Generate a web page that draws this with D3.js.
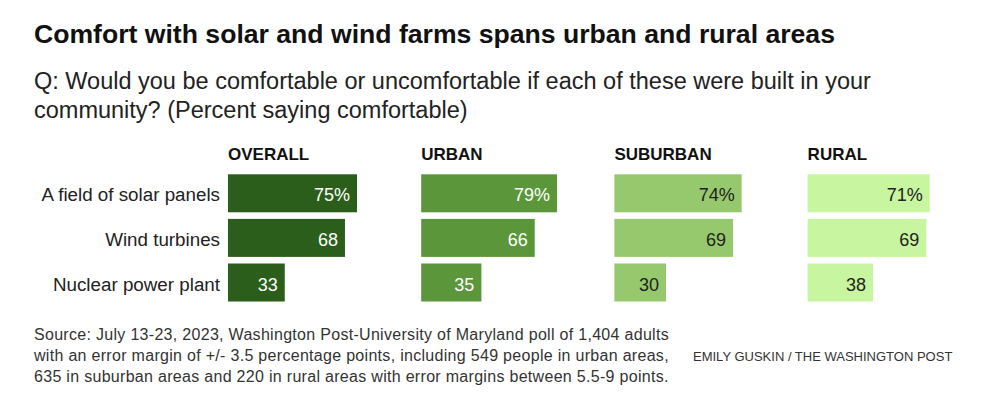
<!DOCTYPE html>
<html>
<head>
<meta charset="utf-8">
<script src="https://cdn.jsdelivr.net/npm/d3@7"></script>
<style>
  html,body{margin:0;padding:0;background:#fff}
  svg{display:block}
  text{font-family:"Liberation Sans",Arial,sans-serif}
</style>
</head>
<body>
<div id="chart"></div>
<script>
/* data */
const categories = ['A field of solar panels', 'Wind turbines', 'Nuclear power plant'];
const groups     = ['OVERALL', 'URBAN', 'SUBURBAN', 'RURAL'];
const overall    = [75, 68, 33];
const urban      = [79, 66, 35];
const suburban   = [74, 69, 30];
const rural      = [71, 69, 38];
const series     = [overall, urban, suburban, rural];

const FILL = ['#2b5e1b', '#5b963a', '#96c86d', '#c8f5a0'];
const INK  = ['#ffffff', '#ffffff', '#222222', '#222222'];

const W = 1000, H = 406;
const svg = d3.select('#chart').append('svg').attr('width', W).attr('height', H);

// title + question
svg.append('text').attr('x', 34).attr('y', 43)
  .attr('fill', '#111').attr('font-size', '26.6px').attr('font-weight', '700')
  .text('Comfort with solar and wind farms spans urban and rural areas');

const sub = svg.append('text').attr('x', 34).attr('y', 89)
  .attr('fill', '#222').attr('font-size', '23.5px');
sub.append('tspan').attr('x', 34).text('Q: Would you be comfortable or uncomfortable if each of these were built in your');
sub.append('tspan').attr('x', 34).attr('dy', 29).text('community? (Percent saying comfortable)');

// scales
const col = d3.scaleBand().domain(groups).range([228, 228 + 4 * 193.2]);
const y   = d3.scaleBand().domain(categories).range([174.3, 301.5]).paddingInner(0.148);
const x   = d3.scaleLinear().domain([0, 100]).range([0, 172]);

// row labels
svg.append('g').selectAll('text').data(categories).join('text')
  .attr('x', 220).attr('y', d => y(d) + y.bandwidth() / 2 + 8)
  .attr('text-anchor', 'end').attr('fill', '#222').attr('font-size', '18.8px')
  .text(d => d);

// panels
groups.forEach((g, gi) => {
  const x0 = col(g);
  const panel = svg.append('g').attr('transform', `translate(${x0},0)`);

  panel.append('text').attr('x', 0).attr('y', 160)
    .attr('fill', '#111').attr('font-size', '17px').attr('font-weight', '700')
    .text(g);

  const rows = categories.map((c, i) => ({c, v: series[gi][i], i}));

  panel.selectAll('rect').data(rows).join('rect')
    .attr('x', 0).attr('y', d => y(d.c))
    .attr('width', d => x(d.v)).attr('height', y.bandwidth())
    .attr('fill', FILL[gi]);

  panel.selectAll('text.val').data(rows).join('text')
    .attr('class', 'val')
    .attr('x', d => x(d.v) - 7).attr('y', d => y(d.c) + y.bandwidth() / 2 + 8)
    .attr('text-anchor', 'end').attr('fill', INK[gi]).attr('font-size', '18px')
    .text(d => d.i === 0 ? d.v + '%' : d.v);
});

// footer
const src = svg.append('text').attr('x', 34).attr('y', 340)
  .attr('fill', '#333').attr('font-size', '16px').attr('letter-spacing', '0.3px');
[
  'Source: July 13-23, 2023, Washington Post-University of Maryland poll of 1,404 adults',
  'with an error margin of +/- 3.5 percentage points, including 549 people in urban areas,',
  '635 in suburban areas and 220 in rural areas with error margins between 5.5-9 points.'
].forEach((l, i) => src.append('tspan').attr('x', 34).attr('dy', i ? 21.2 : 0).text(l));

svg.append('text').attr('x', 693).attr('y', 361)
  .attr('fill', '#333').attr('font-size', '13px')
  .text('EMILY GUSKIN / THE WASHINGTON POST');
</script>
</body>
</html>
